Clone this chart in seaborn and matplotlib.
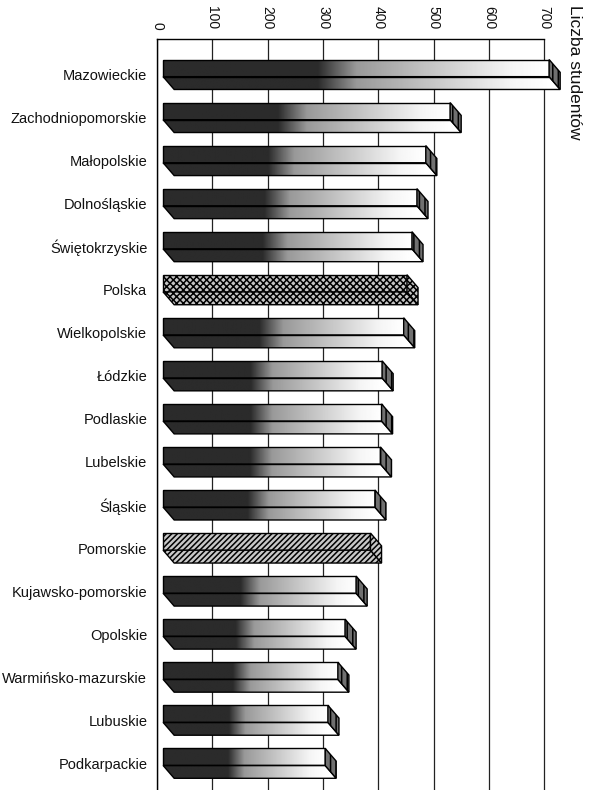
import numpy as np
import matplotlib
matplotlib.use("Agg")
import matplotlib.pyplot as plt
from matplotlib.patches import Polygon
import seaborn as sns

# dane (liczba studentów na 10 tys. ludności)
regions = [
    "Mazowieckie", "Zachodniopomorskie", "Małopolskie", "Dolnośląskie",
    "Świętokrzyskie", "Polska", "Wielkopolskie", "Łódzkie", "Podlaskie",
    "Lubelskie", "Śląskie", "Pomorskie", "Kujawsko-pomorskie", "Opolskie",
    "Warmińsko-mazurskie", "Lubuskie", "Podkarpackie",
]
students = [709, 530, 486, 470, 461, 452, 446, 407, 406, 404, 394, 386,
            360, 340, 327, 309, 304]
x_ticks = [0, 100, 200, 300, 400, 500, 600, 700]
x_label = "Liczba studentów"

# słupki wyróżnione deseniem zamiast gradientu
HATCHES = {"Polska": ("xxxxx", "#c4c4c4"), "Pomorskie": ("//////", "#c8c8c8")}

# geometria efektu 3D (w jednostkach osi)
X0 = 11
DX = 20
TOP, MID, BOT = -0.348, 0.05, 0.348


def setup_style():
    sns.set_theme(style="white")
    plt.rcParams.update({
        "font.family": ["Liberation Sans", "DejaVu Sans"],
        "hatch.linewidth": 1.1,
        "hatch.color": "black",
        "axes.edgecolor": "black",
        "axes.linewidth": 1.0,
    })


def gradient(v, n=400):
    x = np.linspace(X0, v + DX, n)
    t = (x - X0) / (v - X0)
    lvl = np.interp(t, [0, 0.4, 0.5, 0.9, 1.0], [0.17, 0.17, 0.6, 0.96, 1.0])
    return lvl[np.newaxis, :]


def draw_3d(ax):
    for i, (p, name, v) in enumerate(zip(ax.patches, regions, students)):
        p.set_x(X0)
        p.set_width(v - X0)
        p.set_y(i + TOP)
        p.set_height(MID - TOP)
        p.set_zorder(4)

        lower = Polygon([(X0, i + MID), (v, i + MID), (v + DX, i + BOT), (X0 + DX, i + BOT)],
                        closed=True, edgecolor="black", linewidth=1.0, zorder=4)
        side = Polygon([(v, i + TOP), (v + DX, i + TOP + (BOT - MID)), (v + DX, i + BOT), (v, i + MID)],
                       closed=True, edgecolor="black", linewidth=1.0, zorder=4)

        if name in HATCHES:
            hatch, fc = HATCHES[name]
            for patch in (p, lower, side):
                patch.set_facecolor(fc)
                patch.set_hatch(hatch)
            ax.add_patch(lower)
            ax.add_patch(side)
            continue

        p.set_facecolor("none")
        lower.set_facecolor("none")
        side.set_facecolor("#707070")
        side.set_hatch("|||")
        ax.add_patch(lower)
        ax.add_patch(side)

        for clip in (p, lower):
            im = ax.imshow(gradient(v), cmap="gray", vmin=0, vmax=1, aspect="auto",
                           extent=[X0, v + DX, i + BOT, i + TOP], zorder=3,
                           interpolation="bilinear")
            im.set_clip_path(clip)


def main():
    setup_style()
    fig = plt.figure(figsize=(5.95, 7.9), dpi=100)
    ax = fig.add_axes([0.2639, 0.0, 0.6785, 0.9506])

    sns.barplot(x=students, y=regions, orient="h", color="white", width=MID - TOP,
                edgecolor="black", linewidth=1.0, saturation=1, ax=ax)
    draw_3d(ax)

    ax.set_xlim(0, 730)
    ax.set_ylim(16.62, -0.824)
    ax.set_xticks(x_ticks)
    ax.set_xlabel("")
    ax.set_ylabel("")
    ax.xaxis.tick_top()
    ax.tick_params(axis="x", rotation=-90, length=0, pad=7, labelsize=10, colors="#111111")
    ax.tick_params(axis="y", length=0, pad=7, labelsize=10.5, colors="#111111")
    ax.grid(axis="x", color="#222222", linewidth=0.9)
    ax.grid(axis="y", visible=False)
    ax.set_axisbelow(True)

    ax.spines["right"].set_visible(False)
    ax.spines["bottom"].set_visible(False)
    ax.spines["top"].set_bounds(0, 700)

    fig.text(0.966, 0.994, x_label, rotation=-90, ha="center", va="top",
             fontsize=12.5, color="#111111")

    fig.savefig("out.png", dpi=100)
    plt.close(fig)


if __name__ == "__main__":
    main()
